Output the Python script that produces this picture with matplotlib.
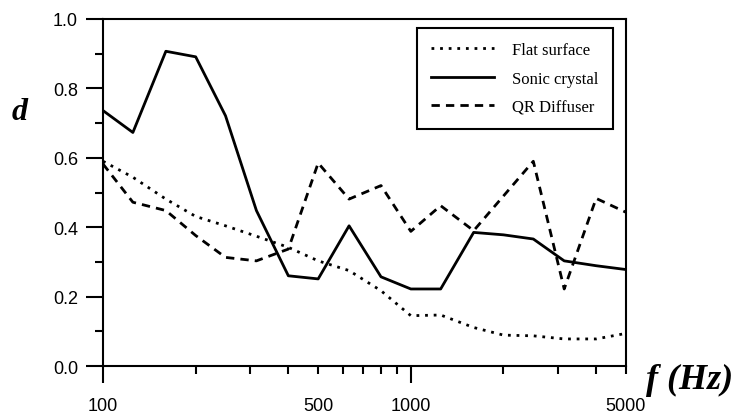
import matplotlib
matplotlib.use('Agg')
import matplotlib.pyplot as plt
from matplotlib.ticker import FixedLocator, FixedFormatter

# third-octave band centre frequencies (Hz)
freqs = [100, 125, 160, 200, 250, 315, 400, 500, 630, 800,
         1000, 1250, 1600, 2000, 2500, 3150, 4000, 5000]

# diffusion coefficient d
flat_surface = [0.590, 0.544, 0.481, 0.431, 0.404, 0.374, 0.342, 0.303, 0.275, 0.217,
                0.145, 0.147, 0.111, 0.089, 0.087, 0.078, 0.078, 0.094]
sonic_crystal = [0.736, 0.673, 0.907, 0.891, 0.721, 0.448, 0.260, 0.251, 0.404, 0.257,
                 0.222, 0.222, 0.385, 0.378, 0.366, 0.303, 0.289, 0.278]
qr_diffuser = [0.582, 0.472, 0.448, 0.376, 0.313, 0.303, 0.337, 0.585, 0.481, 0.520,
               0.388, 0.462, 0.390, 0.490, 0.590, 0.222, 0.483, 0.443]

plt.rcParams['font.family'] = ['Liberation Sans', 'DejaVu Sans']

fig = plt.figure(figsize=(7.36, 4.14), dpi=100)
ax = fig.add_axes([0.140, 0.1135, 0.7105, 0.8382])

lw = 2.0
ax.plot(freqs, flat_surface, color='black', lw=lw, dashes=(1.0, 2.1), label='Flat surface')
ax.plot(freqs, sonic_crystal, color='black', lw=lw, label='Sonic crystal')
ax.plot(freqs, qr_diffuser, color='black', lw=lw, dashes=(3, 2.2), label='QR Diffuser')

ax.set_xscale('log')
ax.set_xlim(100, 5000)
ax.set_ylim(0, 1.0)

# x ticks: long ones at decades, short ones in between, labels only at 100/500/1000/5000
major_x = [100, 1000]
minor_x = [200, 300, 400, 500, 600, 700, 800, 900, 2000, 3000, 4000, 5000]
ax.xaxis.set_major_locator(FixedLocator(major_x))
ax.xaxis.set_major_formatter(FixedFormatter(['100', '1000']))
ax.xaxis.set_minor_locator(FixedLocator(minor_x))
ax.xaxis.set_minor_formatter(FixedFormatter(['' if f not in (500, 5000) else str(f) for f in minor_x]))

ax.set_yticks([0.0, 0.2, 0.4, 0.6, 0.8, 1.0])
ax.set_yticklabels(['0.0', '0.2', '0.4', '0.6', '0.8', '1.0'])
ax.set_yticks([0.1, 0.3, 0.5, 0.7, 0.9], minor=True)

ax.tick_params(which='major', direction='out', length=12, width=1.5, labelsize=13)
ax.tick_params(which='minor', direction='out', length=6, width=1.5, labelsize=13)
ax.tick_params(axis='x', which='major', pad=10)
ax.tick_params(axis='x', which='minor', pad=16)
ax.tick_params(axis='y', which='major', pad=6)
ax.tick_params(axis='y', which='minor', labelleft=False)

for s in ax.spines.values():
    s.set_linewidth(1.5)

leg = ax.legend(loc='upper right', bbox_to_anchor=(0.975, 0.974), borderaxespad=0,
                fancybox=False, edgecolor='black', framealpha=1,
                prop={'family': 'Liberation Serif', 'size': 12},
                handlelength=3.8, handletextpad=1.1, labelspacing=0.75,
                borderpad=0.85)
leg.get_frame().set_linewidth(1.5)

fig.text(0.016, 0.71, 'd', family='Liberation Serif', fontweight='bold', style='italic',
         fontsize=23)
fig.text(0.878, 0.06, 'f (Hz)', family='Liberation Serif', fontweight='bold', style='italic',
         fontsize=26)

fig.savefig('out.png', dpi=100)
